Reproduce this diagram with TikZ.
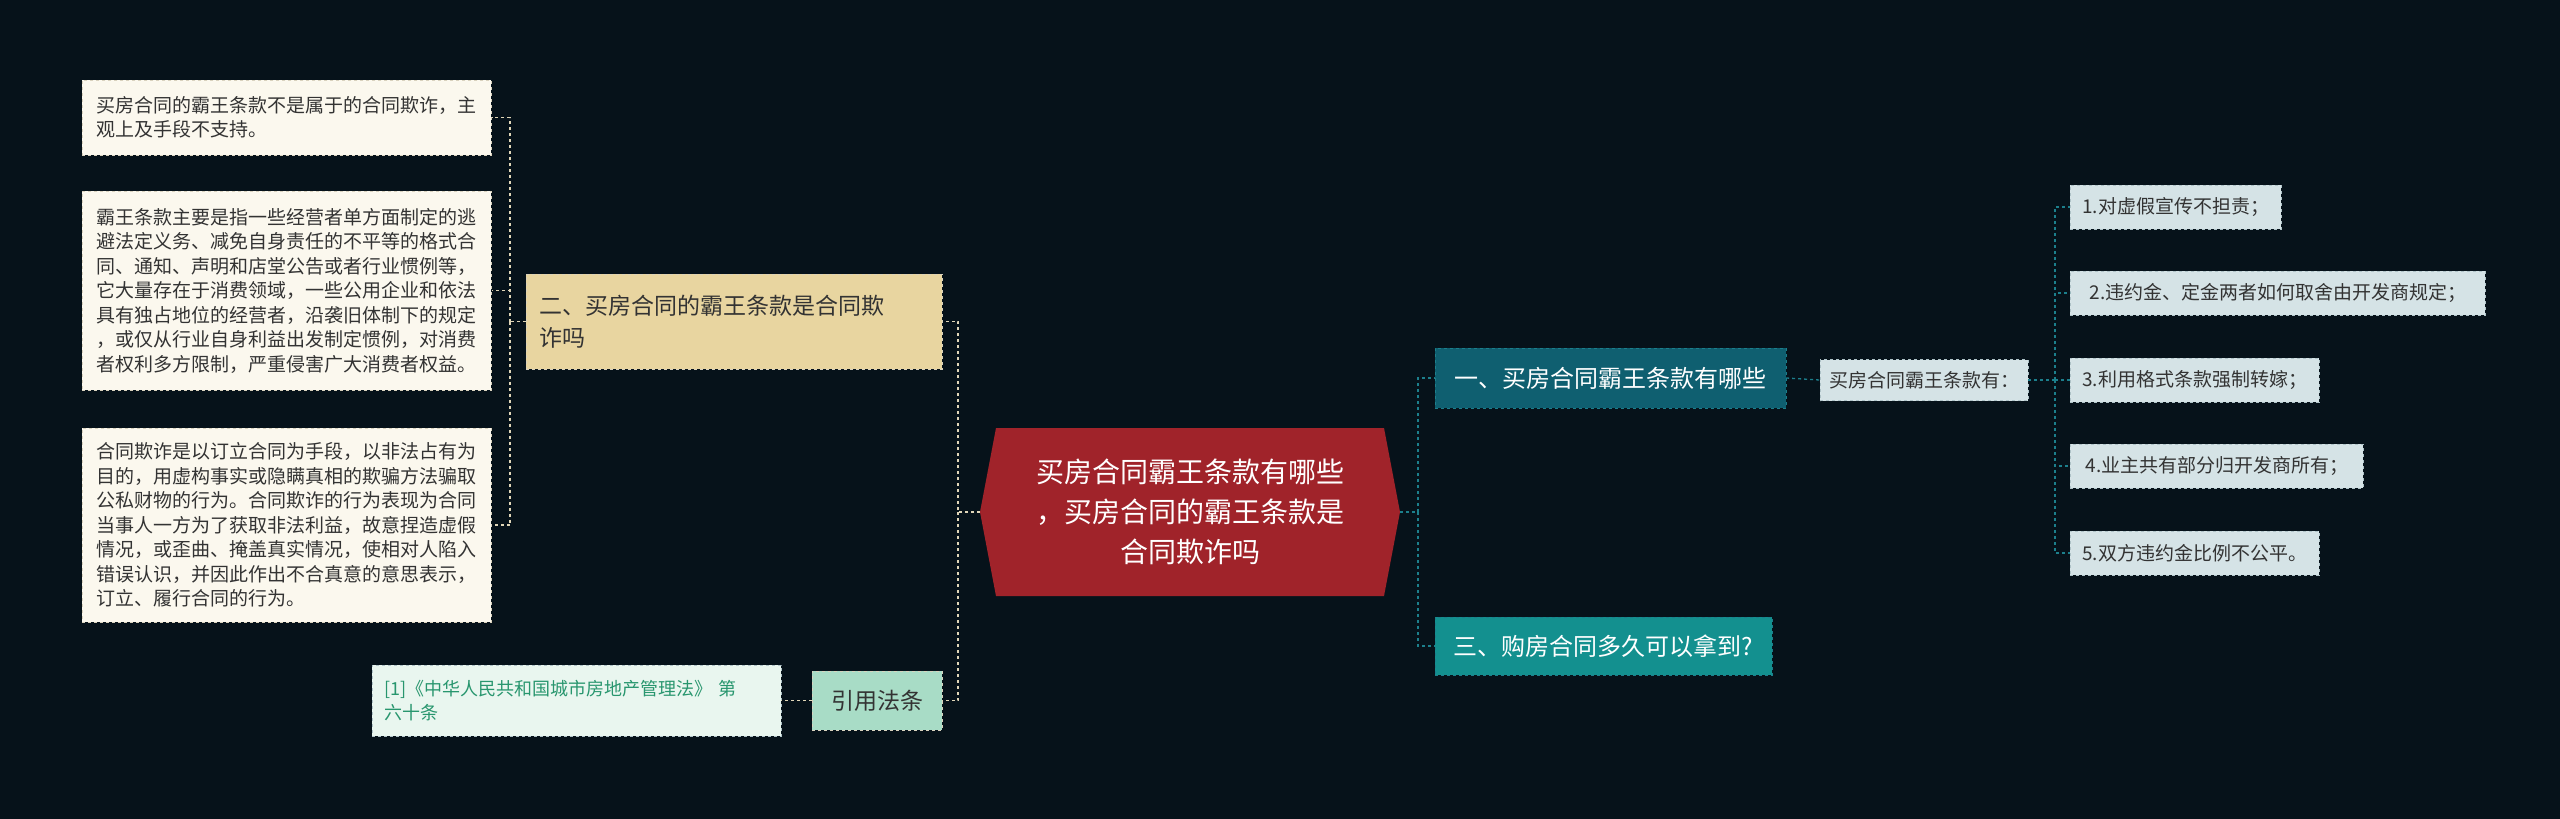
\documentclass[tikz,border=0pt]{standalone}
\usepackage{fontspec}
\setmainfont{Noto Sans CJK SC}
\begin{document}
\begin{tikzpicture}[x=1pt,y=-1pt,
  box/.style={draw, dashed, line width=0.8pt, inner sep=0pt, anchor=north west, font=\fontsize{19}{24.5}\selectfont, align=left},
  leaf/.style={box, fill=cream, draw=creamd, text=textd},
  item/.style={box, fill=lblue, draw=lblued, text=textd},
  conn/.style={dashed, line width=1.3pt}]
\definecolor{bg}{HTML}{06121A}
\definecolor{cream}{HTML}{FBF8EE}
\definecolor{creamd}{HTML}{D9D2BE}
\definecolor{textd}{HTML}{333333}
\definecolor{lblue}{HTML}{D5E3E6}
\definecolor{lblued}{HTML}{AFC3C8}
\definecolor{red1}{HTML}{A0232A}
\definecolor{tealdk}{HTML}{0F5F70}
\definecolor{teallt}{HTML}{13908F}
\definecolor{gold}{HTML}{E8D5A0}
\definecolor{mint}{HTML}{A8DCC6}
\definecolor{mintlt}{HTML}{E9F6EF}
\definecolor{lc}{HTML}{E0D6B8}
\definecolor{rc}{HTML}{1C7F8C}
\fill[bg] (0,0) rectangle (2560,819);
\useasboundingbox (0,0) rectangle (2560,819);
% center
\fill[red1] (980,512) -- (996,428) -- (1384,428) -- (1400,512) -- (1384,596) -- (996,596) -- cycle;
\node[text=white, font=\fontsize{28}{40}\selectfont, align=center] (c) at (1190,512) {买房合同霸王条款有哪些\\，买房合同的霸王条款是\\合同欺诈吗};
\coordinate (cl) at (980,512);
\coordinate (cr) at (1400,512);
% right main
\node[draw=rc, dashed, fill=tealdk, text=white, minimum width=351pt, minimum height=60pt, inner sep=0pt, font=\fontsize{24}{30}\selectfont] (n1) at (1610.5,378) {一、买房合同霸王条款有哪些};
\node[draw=rc, dashed, fill=teallt, text=white, minimum width=337pt, minimum height=58pt, inner sep=0pt, font=\fontsize{24}{30}\selectfont] (n3) at (1603.5,646) {三、购房合同多久可以拿到?};
\node[item, anchor=center, minimum width=208pt, minimum height=41pt, align=center] (h) at (1924,380) {买房合同霸王条款有：};
\node[item, anchor=west, minimum width=178pt, minimum height=44pt, inner xsep=12pt] (i1) at (2070,207) {1.对虚假宣传不担责；};
\node[item, anchor=west, minimum width=415pt, minimum height=44pt, inner xsep=12pt] (i2) at (2070,293) {2.违约金、定金两者如何取舍由开发商规定；};
\node[item, anchor=west, minimum width=240pt, minimum height=44pt, inner xsep=12pt] (i3) at (2070,380) {3.利用格式条款强制转嫁；};
\node[item, anchor=west, minimum width=293pt, minimum height=44pt, inner xsep=12pt] (i4) at (2070,466) {4.业主共有部分归开发商所有；};
\node[item, anchor=west, minimum width=240pt, minimum height=44pt, inner xsep=12pt] (i5) at (2070,553) {5.双方违约金比例不公平。};
% left main
\node[draw=creamd, dashed, fill=gold, text=textd, minimum width=416pt, minimum height=95pt, inner sep=0pt, text width=390pt, align=left, font=\fontsize{23}{32}\selectfont] (n2) at (734,321.5) {二、买房合同的霸王条款是合同欺\\诈吗};
\node[draw=creamd, dashed, fill=mint, text=textd, minimum width=130pt, minimum height=59pt, inner sep=0pt, font=\fontsize{23}{30}\selectfont] (law) at (877,700.5) {引用法条};
\node[draw=lblued, dashed, fill=mintlt, text={rgb,255:red,40;green,150;blue,110}, minimum width=409pt, minimum height=71pt, inner sep=0pt, text width=385pt, align=left, font=\fontsize{18}{24}\selectfont] (ref) at (576.5,700.5) {[1]《中华人民共和国城市房地产管理法》 第\\六十条};
\node[leaf, minimum width=409pt, minimum height=75pt, inner xsep=12pt, anchor=west] (l1) at (82,117.5) {买房合同的霸王条款不是属于的合同欺诈，主\\观上及手段不支持。};
\node[leaf, minimum width=409pt, minimum height=199pt, inner xsep=12pt, anchor=west] (l2) at (82,290.5) {霸王条款主要是指一些经营者单方面制定的逃\\避法定义务、减免自身责任的不平等的格式合\\同、通知、声明和店堂公告或者行业惯例等，\\它大量存在于消费领域，一些公用企业和依法\\具有独占地位的经营者，沿袭旧体制下的规定\\，或仅从行业自身利益出发制定惯例，对消费\\者权利多方限制，严重侵害广大消费者权益。};
\node[leaf, minimum width=409pt, minimum height=194pt, inner xsep=12pt, anchor=west] (l3) at (82,525) {合同欺诈是以订立合同为手段，以非法占有为\\目的，用虚构事实或隐瞒真相的欺骗方法骗取\\公私财物的行为。合同欺诈的行为表现为合同\\当事人一方为了获取非法利益，故意捏造虚假\\情况，或歪曲、掩盖真实情况，使相对人陷入\\错误认识，并因此作出不合真意的意思表示，\\订立、履行合同的行为。};
% connectors right
\draw[conn, rc] (cr) -- (1418,512) |- (n1.west);
\draw[conn, rc] (1418,512) |- (n3.west);
\draw[conn, rc] (n1.east) -- (h.west);
\draw[conn, rc] (h.east) -- (2055,380);
\foreach \i in {i1,i2,i3,i4,i5} \draw[conn, rc] (2055,380) |- (\i.west);
% connectors left
\draw[conn, lc] (cl) -- (958,512) |- (n2.east);
\draw[conn, lc] (958,512) |- (law.east);
\draw[conn, lc] (law.west) -- (ref.east);
\draw[conn, lc] (n2.west) -- (510,321.5);
\foreach \l in {l1,l2,l3} \draw[conn, lc] (510,321.5) |- (\l.east);
\end{tikzpicture}
\end{document}
